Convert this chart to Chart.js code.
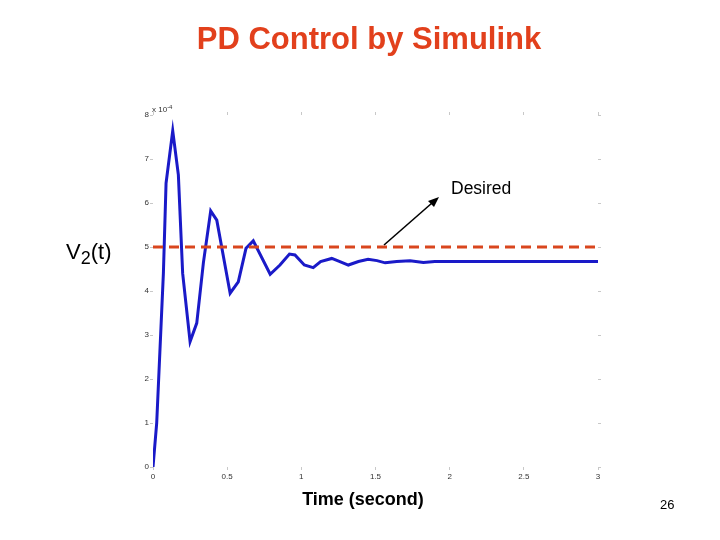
<!DOCTYPE html>
<html>
<head>
<meta charset="utf-8">
<script src="https://cdn.jsdelivr.net/npm/chart.js@4.4.1/dist/chart.umd.min.js"></script>
<style>
  html, body { margin: 0; padding: 0; background: #fff; }
  #wrap { position: relative; width: 720px; height: 540px; font-family: "Liberation Sans", Arial, sans-serif; }
  #plot { position: absolute; left: 0; top: 0; }
  .lbl { position: absolute; white-space: nowrap; color: #000; }
  #title { left: 0; width: 738px; top: 21px; text-align: center; font-size: 31px; font-weight: bold; color: #e2401c; }
  #ylab { left: 66px; top: 239px; font-size: 22px; }
  #ylab sub { font-size: 18px; vertical-align: -5px; }
  #xlab { left: 0; width: 726px; top: 489px; text-align: center; font-size: 18px; font-weight: bold; }
  #page { left: 660px; top: 497px; font-size: 13px; }
  #desired { left: 451px; top: 178px; font-size: 17.5px; }
  #scale { left: 152px; top: 104px; font-size: 8px; color: #333; }
  #scale sup { font-size: 6px; vertical-align: 3px; }
  #arrow { position: absolute; left: 0; top: 0; }
</style>
</head>
<body>
<div id="wrap">
  <canvas id="plot" width="720" height="540"></canvas>
  <svg id="arrow" width="720" height="540">
    <line x1="384" y1="245" x2="432" y2="203" stroke="#000" stroke-width="1.6"/>
    <polygon points="439,197 428,201 434,207" fill="#000"/>
  </svg>
  <div class="lbl" id="title">PD Control by Simulink</div>
  <div class="lbl" id="ylab">V<sub>2</sub>(t)</div>
  <div class="lbl" id="xlab">Time (second)</div>
  <div class="lbl" id="page">26</div>
  <div class="lbl" id="desired">Desired</div>
  <div class="lbl" id="scale">x 10<sup>-4</sup></div>
</div>
<script>
// simulated response, values in units of 1e-4
const timeS = [0, 0.025, 0.07, 0.088, 0.133, 0.171, 0.2, 0.25, 0.295, 0.34, 0.389, 0.43,
               0.52, 0.575, 0.627, 0.676, 0.79, 0.856, 0.92, 0.957, 1.02, 1.08, 1.13,
               1.205, 1.26, 1.317, 1.385, 1.45, 1.51, 1.565, 1.643, 1.733, 1.823, 1.9, 3.0];
const v2 = [0, 1.0, 4.4, 6.45, 7.64, 6.64, 4.4, 2.85, 3.27, 4.65, 5.82, 5.61,
            3.95, 4.21, 4.97, 5.14, 4.38, 4.59, 4.84, 4.82, 4.59, 4.53, 4.67,
            4.74, 4.67, 4.59, 4.67, 4.72, 4.69, 4.64, 4.67, 4.69, 4.65, 4.67, 4.67];
const desiredT = [0, 3];
const desiredV = [5, 5];
const xTicks = [0, 0.5, 1, 1.5, 2, 2.5, 3];
const yTicks = [0, 1, 2, 3, 4, 5, 6, 7, 8];

const tickFont = { family: 'Liberation Sans, Arial, sans-serif', size: 8 };
const faint = '#c8c8c8';

function fixed(size, dim) {
    return s => { s[dim] = size; };
}

function xAxis(pos, showLabels, size) {
    return {
        type: 'linear', position: pos, min: 0, max: 3,
        afterBuildTicks: s => { s.ticks = xTicks.map(v => ({ value: v })); },
        afterFit: fixed(size, 'height'),
        border: { display: false },
        grid: { drawOnChartArea: false, color: faint, tickLength: 3 },
        ticks: {
            display: showLabels, color: '#333', font: tickFont, padding: 2, maxRotation: 0,
            callback: v => String(v),
        },
    };
}

function yAxis(pos, showLabels, size) {
    return {
        type: 'linear', position: pos, min: 0, max: 8,
        afterBuildTicks: s => { s.ticks = yTicks.map(v => ({ value: v })); },
        afterFit: fixed(size, 'width'),
        border: { display: false },
        grid: { drawOnChartArea: false, color: faint, tickLength: 3 },
        ticks: { display: showLabels, color: '#333', font: tickFont, padding: 1, callback: v => String(v) },
    };
}

new Chart(document.getElementById('plot'), {
    type: 'line',
    data: {
        datasets: [
            {
                label: 'Desired',
                data: desiredT.map((t, i) => ({ x: t, y: desiredV[i] })),
                borderColor: '#d9461e',
                borderWidth: 3,
                borderDash: [10, 6],
                pointRadius: 0,
                xAxisID: 'x', yAxisID: 'y',
            },
            {
                label: 'V2(t)',
                data: timeS.map((t, i) => ({ x: t, y: v2[i] })),
                borderColor: '#1a1ac8',
                borderWidth: 3,
                pointRadius: 0,
                tension: 0,
                xAxisID: 'x', yAxisID: 'y',
            },
        ],
    },
    options: {
        responsive: false,
        animation: false,
        layout: { padding: 0 },
        plugins: { legend: { display: false }, tooltip: { enabled: false } },
        scales: {
            x:  xAxis('bottom', true, 73),
            x2: xAxis('top', false, 115),
            y:  yAxis('left', true, 153),
            y2: yAxis('right', false, 122),
        },
    },
});
</script>
</body>
</html>
